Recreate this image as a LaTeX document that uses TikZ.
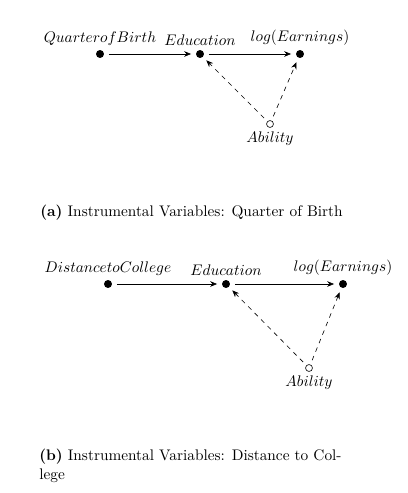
\documentclass[tikz,border=0pt]{standalone}
\usepackage{amsmath,amssymb}
\usepackage{xcolor}
\usepackage{tikz}
\usetikzlibrary{arrows.meta,positioning}

\begin{document}
\begin{tikzpicture}[
  x=0.652pt, y=-0.652pt,
  var/.style={circle, fill=black, inner sep=0pt, minimum size=5.2pt},
  latent/.style={circle, draw=black, fill=white, inner sep=0pt, minimum size=4.5pt},
  lbl/.style={inner sep=1pt},
  arrow/.style={-{Stealth[length=4.5pt, width=3.6pt]}, shorten >=3pt, shorten <=3pt},
  darrow/.style={-{Stealth[length=4.5pt, width=3.6pt]}, dashed, shorten >=3pt, shorten <=3pt},
  caption/.style={anchor=north west, align=left, inner sep=0pt},
]
\useasboundingbox (0,0) rectangle (407,493);

% (a) quarter of birth
\node[var] (qob) at (100,54) {};
\node[var] (edua) at (200,54) {};
\node[var] (earna) at (300,54) {};
\node[latent] (abila) at (270,124) {};

\node[lbl, above=1.5pt of qob] (qobl) {$Quarter of Birth$};
\node[lbl, above=1.5pt of edua] (edual) {$Education$};
\node[lbl, above=1.5pt of earna] (earnal) {$log(Earnings)$};
\node[lbl, below=1.5pt of abila] (abilal) {$Ability$};

\draw[arrow] (qob) -- (edua);
\draw[arrow] (edua) -- (earna);
\draw[darrow] (abila) -- (edua);
\draw[darrow] (abila) -- (earna);

\node[caption] (capa) at (40,205) {\textbf{(a)} Instrumental Variables: Quarter of Birth};

% (b) distance to college
\node[var] (dist) at (108,284) {};
\node[var] (edub) at (226,284) {};
\node[var] (earnb) at (343,284) {};
\node[latent] (abilb) at (309,368) {};

\node[lbl, above=1.5pt of dist] (distl) {$Distance to College$};
\node[lbl, above=1.5pt of edub] (edubl) {$Education$};
\node[lbl, above=1.5pt of earnb] (earnbl) {$log(Earnings)$};
\node[lbl, below=1.5pt of abilb] (abilbl) {$Ability$};

\draw[arrow] (dist) -- (edub);
\draw[arrow] (edub) -- (earnb);
\draw[darrow] (abilb) -- (edub);
\draw[darrow] (abilb) -- (earnb);

\node[caption] (capb) at (39,449) {\textbf{(b)} Instrumental Variables: Distance to Col-\\lege};

\end{tikzpicture}
\end{document}
